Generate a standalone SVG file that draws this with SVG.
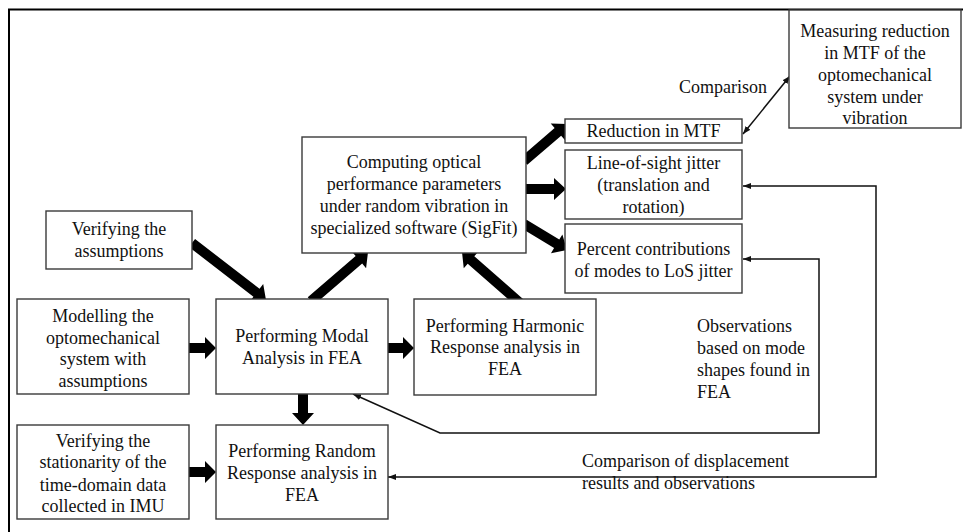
<svg xmlns="http://www.w3.org/2000/svg" width="963" height="532" viewBox="0 0 963 532">
<defs>
<style>
.box{fill:#fff;stroke:#3a3a3a;stroke-width:1.4}
.t{font-family:"Liberation Serif","Times New Roman",serif;font-size:18px;fill:#111}
.c{text-anchor:middle}
.thin{fill:none;stroke:#111;stroke-width:1.5}
.blk{fill:#000}
</style>
<marker id="ah" viewBox="0 0 8 6" refX="8" refY="3" markerWidth="8" markerHeight="6" markerUnits="userSpaceOnUse" orient="auto-start-reverse">
<path d="M0,0 L8,3 L0,6 Z" fill="#111"/>
</marker>
</defs>
<rect width="963" height="532" fill="#fff"/>
<path d="M9,532 V9.5 H963" fill="none" stroke="#000" stroke-width="2"/>

<g id="connectors">
<g transform="translate(192,243) rotate(37.6)"><path class="blk" d="M0,-5 H81.4 V-11 L93.4,0 L81.4,11 V5 H0 Z"/></g>
<g transform="translate(311,301) rotate(-40.7)"><path class="blk" d="M0,-5 H63.2 V-11 L75.2,0 L63.2,11 V5 H0 Z"/></g>
<g transform="translate(520,303) rotate(-138.7)"><path class="blk" d="M0,-5 H65.2 V-11 L77.2,0 L65.2,11 V5 H0 Z"/></g>
<g transform="translate(524,161) rotate(-40.7)"><path class="blk" d="M0,-5 H44.7 V-11 L56.7,0 L44.7,11 V5 H0 Z"/></g>
<g transform="translate(526,189)"><path class="blk" d="M0,-5 H28 V-11 L40,0 L28,11 V5 H0 Z"/></g>
<g transform="translate(524,224) rotate(31.2)"><path class="blk" d="M0,-5 H38.2 V-11 L50.2,0 L38.2,11 V5 H0 Z"/></g>
<g transform="translate(189,348)"><path class="blk" d="M0,-5 H16 V-11 L27,0 L16,11 V5 H0 Z"/></g>
<g transform="translate(388,348)"><path class="blk" d="M0,-5 H15 V-11 L26,0 L15,11 V5 H0 Z"/></g>
<g transform="translate(303,394) rotate(90)"><path class="blk" d="M0,-5 H19 V-11 L31,0 L19,11 V5 H0 Z"/></g>
<g transform="translate(189,472)"><path class="blk" d="M0,-5 H16 V-11 L27,0 L16,11 V5 H0 Z"/></g>

<path class="thin" d="M743,134 L790,76" marker-start="url(#ah)" marker-end="url(#ah)"/>
<path class="thin" d="M743,186 H876 V477 H388" marker-start="url(#ah)" marker-end="url(#ah)"/>
<path class="thin" d="M743,259 H819 V433 H440 L353,394" marker-start="url(#ah)" marker-end="url(#ah)"/>
</g>

<g id="verify-assumptions">
<rect class="box" x="46" y="211" width="146" height="58"/>
<text class="t c" x="119" y="235">Verifying the</text>
<text class="t c" x="119" y="257">assumptions</text>
</g>

<g id="computing">
<rect class="box" x="302" y="137" width="224" height="116"/>
<text class="t c" x="414" y="168">Computing optical</text>
<text class="t c" x="414" y="190">performance parameters</text>
<text class="t c" x="414" y="212">under random vibration in</text>
<text class="t c" x="414" y="234">specialized software (SigFit)</text>
</g>

<g id="modelling">
<rect class="box" x="17" y="299" width="172" height="95"/>
<text class="t c" x="103" y="322">Modelling the</text>
<text class="t c" x="103" y="344">optomechanical</text>
<text class="t c" x="103" y="365">system with</text>
<text class="t c" x="103" y="387">assumptions</text>
</g>

<g id="modal">
<rect class="box" x="216" y="299" width="172" height="95"/>
<text class="t c" x="302" y="342">Performing Modal</text>
<text class="t c" x="302" y="364">Analysis in FEA</text>
</g>

<g id="harmonic">
<rect class="box" x="414" y="299" width="182" height="96"/>
<text class="t c" x="505" y="332">Performing Harmonic</text>
<text class="t c" x="505" y="353">Response analysis in</text>
<text class="t c" x="505" y="375">FEA</text>
</g>

<g id="stationarity">
<rect class="box" x="17" y="425" width="172" height="94"/>
<text class="t c" x="103" y="447">Verifying the</text>
<text class="t c" x="103" y="468">stationarity of the</text>
<text class="t c" x="103" y="491">time-domain data</text>
<text class="t c" x="103" y="512">collected in IMU</text>
</g>

<g id="random">
<rect class="box" x="216" y="425" width="172" height="94"/>
<text class="t c" x="302" y="457">Performing Random</text>
<text class="t c" x="302" y="479">Response analysis in</text>
<text class="t c" x="302" y="501">FEA</text>
</g>

<g id="mtf">
<rect class="box" x="565" y="119" width="177" height="24"/>
<text class="t c" x="653.5" y="137">Reduction in MTF</text>
</g>

<g id="los">
<rect class="box" x="565" y="150" width="177" height="69"/>
<text class="t c" x="653.5" y="169">Line-of-sight jitter</text>
<text class="t c" x="653.5" y="191">(translation and</text>
<text class="t c" x="653.5" y="213">rotation)</text>
</g>

<g id="percent">
<rect class="box" x="565" y="224" width="177" height="69"/>
<text class="t c" x="653.5" y="255">Percent contributions</text>
<text class="t c" x="653.5" y="277">of modes to LoS jitter</text>
</g>

<g id="measuring">
<rect class="box" x="789" y="10" width="172" height="118"/>
<text class="t c" x="875" y="37">Measuring reduction</text>
<text class="t c" x="875" y="59">in MTF of the</text>
<text class="t c" x="875" y="81">optomechanical</text>
<text class="t c" x="875" y="103">system under</text>
<text class="t c" x="875" y="124">vibration</text>
</g>

<g id="labels">
<text class="t" x="679" y="93">Comparison</text>
<text class="t" x="697" y="332">Observations</text>
<text class="t" x="697" y="354">based on mode</text>
<text class="t" x="697" y="376">shapes found in</text>
<text class="t" x="697" y="398">FEA</text>
<text class="t" x="582" y="467">Comparison of displacement</text>
<text class="t" x="582" y="489">results and observations</text>
</g>
</svg>
